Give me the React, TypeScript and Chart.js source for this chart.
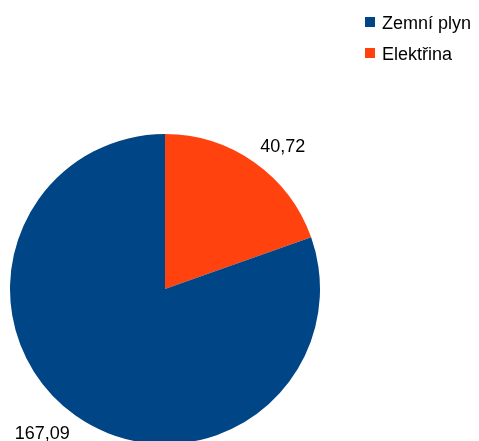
import React, { useEffect, useRef } from "react";
import { Chart, registerables } from "chart.js";

Chart.register(...registerables);

// Drawing order clockwise from the top: Elektřina, then Zemní plyn
const categories = ["Elektřina", "Zemní plyn"];
const values = [40.72, 167.09];
const colors = ["#ff420e", "#004586"];
// Legend order as shown in the reference
const legendOrder = [1, 0];

const FONT = '18px "Liberation Sans", Arial, sans-serif';

const fmt = (v: number) => v.toFixed(2).replace(".", ",");

const labelPlugin = {
  id: "outsideLabels",
  afterDatasetsDraw(chart: any) {
    const ctx = chart.ctx;
    const meta = chart.getDatasetMeta(0);
    ctx.save();
    ctx.font = FONT;
    ctx.fillStyle = "#000";
    meta.data.forEach((arc: any, i: number) => {
      const { x, y, startAngle, endAngle, outerRadius } = arc.getProps(
        ["x", "y", "startAngle", "endAngle", "outerRadius"],
        true
      );
      const mid = (startAngle + endAngle) / 2;
      const r = outerRadius + 10;
      const ax = x + Math.cos(mid) * r;
      const ay = y + Math.sin(mid) * r;
      const text = fmt(values[i]);
      ctx.textAlign = Math.cos(mid) >= 0 ? "left" : "right";
      ctx.textBaseline = "alphabetic";
      const by = Math.sin(mid) < 0 ? ay - 2 : ay + 15;
      ctx.fillText(text, ax, by);
    });
    ctx.restore();
  },
};

const legendPlugin = {
  id: "customLegend",
  afterDraw(chart: any) {
    const ctx = chart.ctx;
    ctx.save();
    ctx.font = FONT;
    ctx.textAlign = "left";
    ctx.textBaseline = "alphabetic";
    legendOrder.forEach((idx, row) => {
      const top = 17 + row * 31;
      ctx.fillStyle = colors[idx];
      ctx.fillRect(365, top, 10, 10);
      ctx.fillStyle = "#000";
      ctx.fillText(categories[idx], 382, top + 11.5);
    });
    ctx.restore();
  },
};

export default function App() {
  const ref = useRef<HTMLCanvasElement | null>(null);
  useEffect(() => {
    if (!ref.current) return;
    const chart = new Chart(ref.current, {
      type: "pie",
      data: {
        labels: categories,
        datasets: [
          {
            data: values,
            backgroundColor: colors,
            borderWidth: 0,
          },
        ],
      },
      options: {
        responsive: false,
        animation: false,
        layout: { padding: { left: 10, right: 159, top: 134, bottom: 16 } },
        plugins: {
          legend: { display: false },
          tooltip: { enabled: false },
          title: { display: false },
        },
      },
      plugins: [labelPlugin, legendPlugin],
    });
    return () => chart.destroy();
  }, []);
  return (
    <div
      style={{
        position: "fixed",
        left: 0,
        top: 0,
        width: 479,
        height: 441,
        overflow: "hidden",
        background: "#fff",
      }}
    >
      <canvas ref={ref} width={479} height={460} style={{ display: "block" }} />
    </div>
  );
}
